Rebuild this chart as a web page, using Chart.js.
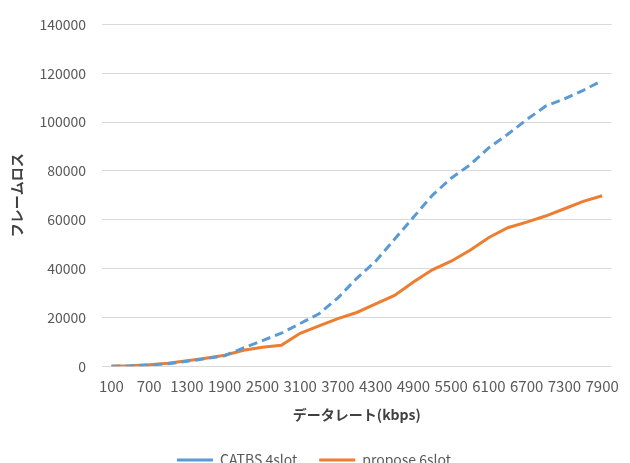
<!DOCTYPE html>
<html>
<head>
<meta charset="utf-8">
<script src="https://cdn.jsdelivr.net/npm/chart.js@4.4.1/dist/chart.umd.min.js"></script>
<style>
  html, body { margin: 0; padding: 0; background: #fff; overflow: hidden; }
  #wrap { width: 630px; height: 463px; overflow: hidden; }
</style>
</head>
<body>
<div id="wrap"><canvas id="myChart" width="630" height="483"></canvas></div>
<script>
  const rates = [100, 400, 700, 1000, 1300, 1600, 1900, 2200, 2500, 2800, 3100, 3400, 3700, 4000,
    4300, 4600, 4900, 5200, 5500, 5800, 6100, 6400, 6700, 7000, 7300, 7600, 7900];
  const catbs4slot = [0, 150, 500, 1000, 2000, 3100, 4300, 7500, 10500, 13500, 17500, 21500, 28000, 36000,
    43000, 52000, 61000, 70000, 77000, 82500, 89500, 95000, 101000, 106500, 109500, 113000, 117000];
  const propose6slot = [0, 200, 600, 1200, 2200, 3300, 4500, 6500, 7800, 8600, 13500, 16500, 19500, 22000,
    25500, 29000, 34500, 39500, 43000, 47500, 52700, 56700, 59000, 61500, 64500, 67500, 69800];

  const font = "'Noto Sans CJK JP', 'Noto Sans', sans-serif";

  const ctx = document.getElementById('myChart');
  const myChart = new Chart(ctx, {
    type: 'line',
    data: {
      labels: rates,
      datasets: [{
        label: 'CATBS 4slot',
        data: catbs4slot,
        borderColor: '#5b9bd5',
        backgroundColor: '#5b9bd5',
        borderWidth: 3,
        borderDash: [9, 5],
        pointRadius: 0,
        tension: 0
      }, {
        label: 'propose 6slot',
        data: propose6slot,
        borderColor: '#ed7d31',
        backgroundColor: '#ed7d31',
        borderWidth: 3,
        pointRadius: 0,
        tension: 0
      }]
    },
    options: {
      responsive: false,
      animation: false,
      devicePixelRatio: 1,
      layout: { padding: { left: 8, right: 10, top: 23, bottom: 6 } },
      plugins: {
        tooltip: { enabled: false },
        legend: {
          position: 'bottom',
          labels: {
            usePointStyle: true,
            pointStyle: 'line',
            pointStyleWidth: 36,
            boxHeight: 12,
            padding: 22,
            color: '#595959',
            font: { family: font, size: 14 }
          }
        }
      },
      scales: {
        x: {
          offset: true,
          grid: { display: false, drawTicks: false },
          border: { display: false },
          ticks: {
            autoSkip: false,
            maxRotation: 0,
            padding: 11,
            color: '#595959',
            font: { family: font, size: 15 },
            callback: function (v, i) { return i % 2 === 0 ? this.getLabelForValue(v) : ''; }
          },
          title: {
            display: true,
            text: 'データレート(kbps)',
            color: '#404040',
            font: { family: font, size: 14, weight: 'bold' },
            padding: { top: 0, bottom: 8 }
          }
        },
        y: {
          min: 0,
          max: 140000,
          afterFit: (scale) => { scale.width = 94; },
          grid: { color: '#d9d9d9', lineWidth: 1, drawTicks: false },
          border: { display: false },
          ticks: {
            stepSize: 20000,
            padding: 16,
            color: '#595959',
            font: { family: font, size: 14 },
            callback: (v) => String(v)
          },
          title: {
            display: true,
            text: 'フレームロス',
            color: '#404040',
            font: { family: font, size: 14, weight: 'bold' },
            padding: 0
          }
        }
      }
    }
  });
</script>
</body>
</html>
